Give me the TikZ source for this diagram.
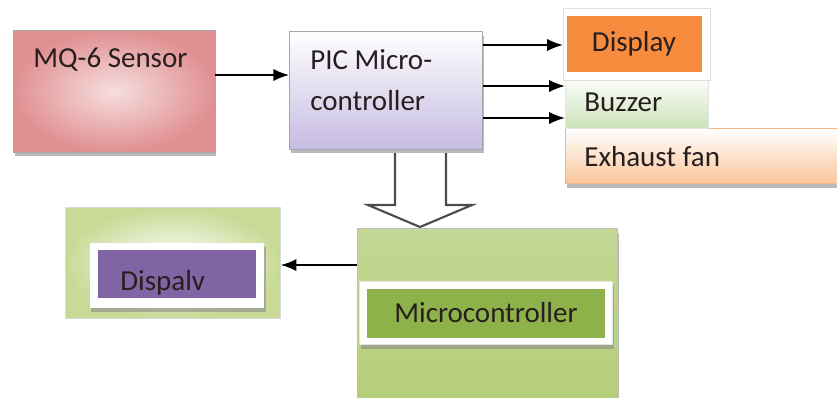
\documentclass[tikz,border=0pt]{standalone}
\usepackage{fontspec}
\setmainfont{Carlito}
\usetikzlibrary{shadows, arrows.meta}

\definecolor{mqpink}{RGB}{224,144,146}
\definecolor{mqlight}{RGB}{247,222,222}
\definecolor{piclav}{RGB}{198,188,226}
\definecolor{disporange}{RGB}{247,140,62}
\definecolor{buzzgreen}{RGB}{204,226,186}
\definecolor{exhpeach}{RGB}{250,198,156}
\definecolor{exhline}{RGB}{242,184,136}
\definecolor{mcgreen}{RGB}{180,206,122}
\definecolor{mcdark}{RGB}{142,178,74}
\definecolor{ldgreen}{RGB}{200,218,150}
\definecolor{ldpurple}{RGB}{128,100,164}
\definecolor{textdark}{RGB}{40,30,30}

\begin{document}
\begin{tikzpicture}[x=0.02cm, y=-0.02cm,
    every node/.style={font=\fontsize{16.5}{19}\selectfont, text=textdark},
    shadowed/.style={drop shadow={shadow xshift=0.03cm, shadow yshift=-0.09cm, fill=black!45, opacity=0.6}},
    blockbox/.style={draw=black!35, shadowed, inner sep=0pt},
    label/.style={anchor=west, inner sep=0pt},
    feed/.style={arrows={-{Latex[length=9pt, width=7pt]}}, line width=1.1pt}]
    \useasboundingbox (0,0) rectangle (837,397);

    % top row
    \node [blockbox, inner color=mqlight, outer color=mqpink, minimum width=4.04cm, minimum height=2.44cm] (mq) at (114,91) {};
    \node [label] (mqtext) at (33,60) {MQ-6 Sensor};

    \node [blockbox, top color=white, bottom color=piclav, minimum width=3.86cm, minimum height=2.36cm] (pic) at (386,90) {};
    \node [label] (pictexta) at (310,60) {PIC Micro-};
    \node [label] (pictextb) at (310,101) {controller};

    % outputs
    \node [shadowed, minimum width=6.94cm, minimum height=1.10cm, inner sep=0pt, anchor=north west, top color=white, bottom color=exhpeach, draw=exhline] (exh) at (565,128) {};
    \node [label] (exhtext) at (584,157) {Exhaust fan};

    \node [draw=black!10, top color=white, bottom color=buzzgreen, minimum width=2.86cm, minimum height=1.06cm, inner sep=0pt, anchor=north west] (buzz) at (565,75) {};
    \node [label] (buzztext) at (584,102) {Buzzer};

    \node [draw=black!12, fill=white, minimum width=2.94cm, minimum height=1.44cm, inner sep=0pt, anchor=north west] (dispframe) at (563,8) {};
    \node [fill=disporange, minimum width=2.70cm, minimum height=1.12cm, inner sep=0pt] (disp) at (634,44) {Display};

    \draw [feed] (mq.east |- 0,75) -- (pic.west |- 0,75);
    \draw [feed] (pic.east |- 0,45) -- (dispframe.west |- 0,45);
    \draw [feed] (pic.east |- 0,86) -- (buzz.west |- 0,86);
    \draw [feed] (pic.east |- 0,118) -- (buzz.west |- 0,118);

    % bottom row
    \node [draw=black!25, top color=mcgreen!80!white, bottom color=mcgreen, shadowed, minimum width=5.20cm, minimum height=3.40cm, inner sep=0pt, anchor=north west] (mc) at (357,228) {};
    \node [fill=white, draw=black!10, minimum width=5.06cm, minimum height=1.26cm, inner sep=0pt, shadowed] (mcband) at (486,313) {};
    \node [fill=mcdark, minimum width=4.76cm, minimum height=0.98cm, inner sep=0pt] (mcin) at (486,313) {Microcontroller};

    \node [draw=black!15, inner color=white, outer color=ldgreen, minimum width=4.30cm, minimum height=2.22cm, inner sep=0pt, anchor=north west] (ld) at (65,207) {};
    \node [fill=white, minimum width=3.50cm, minimum height=1.30cm, inner sep=0pt, shadowed] (ldband) at (177,275) {};
    \node [fill=ldpurple, minimum width=3.18cm, minimum height=0.96cm, inner sep=0pt] (ldin) at (177,274) {};
    \node [label] (ldtext) at (120,283) {Dispalv};

    \draw [feed] (mc.west |- 0,265) -- (ld.east |- 0,265);

    % hollow arrow
    \draw [black!70, line width=1.2pt, fill=white, line join=miter]
        (395,153) -- (395,205) -- (368,205) -- (420,227) -- (472,205) -- (446,205) -- (446,153);
\end{tikzpicture}
\end{document}
